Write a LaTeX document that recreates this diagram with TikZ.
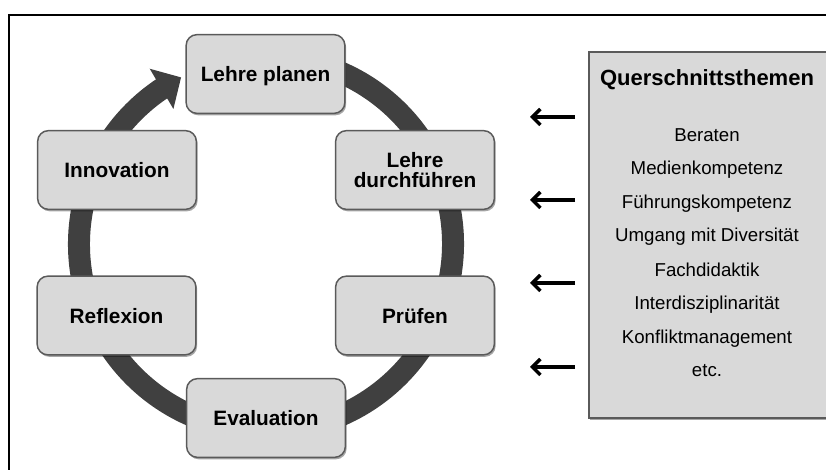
\documentclass[tikz,border=0pt]{standalone}
\usepackage{fontspec}
\setmainfont{Liberation Sans}
\usetikzlibrary{arrows.meta,bending,shadows}
\definecolor{boxfill}{HTML}{D9D9D9}
\definecolor{boxline}{HTML}{5A5A5A}
\definecolor{ringcol}{HTML}{404040}
\begin{document}
\begin{tikzpicture}[x=0.75pt,y=0.75pt,
  softshadow/.style={drop shadow={shadow xshift=1pt, shadow yshift=-1.5pt, opacity=0.35, fill=black}},
  phase/.style={draw=boxline, line width=1.1pt, fill=boxfill, rounded corners=8pt,
    minimum width=119pt, minimum height=59pt, inner sep=0pt, align=center,
    font=\fontsize{15.6}{14.5}\selectfont\bfseries, text depth=0pt, softshadow},
  panelbox/.style={draw=boxline, line width=1.1pt, fill=boxfill, minimum width=183.75pt,
    minimum height=274.5pt, inner sep=0pt, softshadow},
  titletext/.style={anchor=base, inner sep=0pt, font=\fontsize{16.5}{19}\selectfont\bfseries},
  itemtext/.style={anchor=base, inner sep=0pt, font=\fontsize{14}{16}\selectfont},
  ring/.style={draw=ringcol, line width=16.5pt},
  sidearrow/.style={line width=2.4pt, -{Straight Barb[length=6pt,width=12pt,line width=2.6pt]}}
]
\useasboundingbox (0,0) rectangle (826,470);
\fill[white] (0,0) rectangle (826,470);
% outer frame (only left and top edges visible)
\draw[line width=1.5pt] (9,0) -- (9,455) -- (826,455);

% cycle ring
\coordinate (C) at (266,226);
\draw[ring, -{Triangle[length=17pt,width=34pt]}] (C) ++(80:187) arc[start angle=80, end angle=-243, radius=187];

% phase boxes
\node[phase] (planen) at (265.5,396) {Lehre planen};
\node[phase] (durch)  at (415,300)   {Lehre\\durchführen};
\node[phase] (pruef)  at (415,154.5) {Prüfen};
\node[phase] (eval)   at (266,52)    {Evaluation};
\node[phase] (refl)   at (116.5,154.5) {Reflexion};
\node[phase] (innov)  at (117,300)   {Innovation};

% cross-cutting themes panel
\node[panelbox] (panel) at (711.5,235) {};
\node[titletext] (title) at (707,384.3) {Querschnittsthemen};
\node[itemtext] (i1) at (707,328.3) {Beraten};
\node[itemtext] (i2) at (707,295)   {Medienkompetenz};
\node[itemtext] (i3) at (707,261.7) {Führungskompetenz};
\node[itemtext] (i4) at (707,228.3) {Umgang mit Diversität};
\node[itemtext] (i5) at (707,193.3) {Fachdidaktik};
\node[itemtext] (i6) at (707,160)   {Interdisziplinarität};
\node[itemtext] (i7) at (707,126.7) {Konfliktmanagement};
\node[itemtext] (i8) at (707,93.3)  {etc.};

% arrows from the panel towards the cycle
\coordinate (a1s) at (575,353); \coordinate (a1e) at (530,353);
\coordinate (a2s) at (575,270); \coordinate (a2e) at (530,270);
\coordinate (a3s) at (575,187); \coordinate (a3e) at (530,187);
\coordinate (a4s) at (575,103); \coordinate (a4e) at (530,103);
\draw[sidearrow] (a1s) -- (a1e);
\draw[sidearrow] (a2s) -- (a2e);
\draw[sidearrow] (a3s) -- (a3e);
\draw[sidearrow] (a4s) -- (a4e);
\end{tikzpicture}
\end{document}
